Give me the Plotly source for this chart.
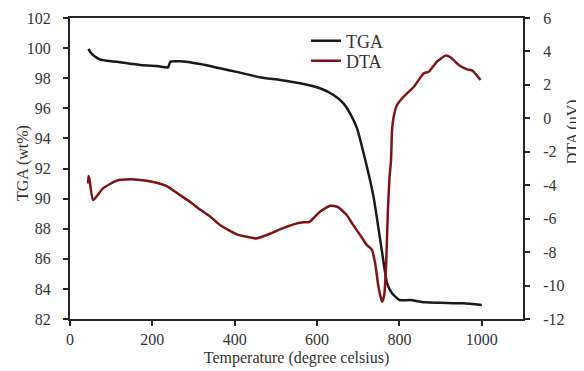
import plotly.graph_objects as go

# TGA data (temperature in degree celsius, weight %)
tga_temp = [45, 50, 56, 72, 100, 121, 150, 170, 210, 233, 238, 244, 267, 316, 364, 413, 461,
            510, 559, 607, 640, 664, 680, 697, 717, 737, 757, 770, 782, 800, 826, 851, 863,
            900, 956, 1000]
tga_wt = [99.95, 99.7, 99.54, 99.25, 99.12, 99.06, 98.95, 98.88, 98.81, 98.72, 98.72, 99.1,
          99.12, 98.94, 98.66, 98.37, 98.06, 97.88, 97.66, 97.33, 96.88, 96.33, 95.67, 94.67,
          92.56, 90.13, 86.58, 84.37, 83.71, 83.26, 83.26, 83.15, 83.11, 83.08, 83.04, 82.93]

# DTA data (temperature in degree celsius, uV)
dta_temp = [44, 45, 47, 56, 80, 113, 145, 170, 210, 235, 267, 292, 315, 341, 364, 405, 429,
            453, 486, 510, 527, 543, 567, 581, 607, 632, 650, 672, 685, 705, 721, 733, 741,
            749, 757.6, 763, 768, 772, 776, 779.6, 782, 786, 794, 810, 835, 859, 871, 891,
            912, 924, 944, 964, 977, 997]
dta_uv = [-3.9, -3.45, -3.6, -4.89, -4.19, -3.73, -3.65, -3.69, -3.85, -4.05, -4.59, -5.0,
          -5.44, -5.88, -6.38, -6.94, -7.08, -7.18, -6.9, -6.64, -6.48, -6.34, -6.22, -6.2,
          -5.58, -5.23, -5.3, -5.78, -6.28, -7.0, -7.58, -7.85, -8.67, -10.07, -10.97, -10.57,
          -8.47, -5.48, -3.49, -2.49, -0.70, 0.10, 0.80, 1.29, 1.89, 2.69, 2.79, 3.39, 3.75,
          3.65, 3.19, 2.93, 2.85, 2.29]

# Tick labels
x_ticks = [0, 200, 400, 600, 800, 1000]
tga_ticks = [82, 84, 86, 88, 90, 92, 94, 96, 98, 100, 102]
dta_ticks = [-12, -10, -8, -6, -4, -2, 0, 2, 4, 6]
dta_tick_text = ["-12", "-10", "-8", "-6", "-4", "-2", "0", "2", "4", "6"]

FONT = "Liberation Serif"
AX = "#262626"
TXT = "#333333"

fig = go.Figure()
fig.add_trace(go.Scatter(x=tga_temp, y=tga_wt, name="TGA", mode="lines", legend="legend",
                         line=dict(color="#1a1a1a", width=2.5, shape="spline", smoothing=0.5)))
fig.add_trace(go.Scatter(x=dta_temp, y=dta_uv, name="DTA", mode="lines", yaxis="y2",
                         legend="legend2",
                         line=dict(color="#7f1518", width=2.5, shape="spline", smoothing=0.5)))

leg_common = dict(xanchor="left", yanchor="middle", bgcolor="rgba(0,0,0,0)",
                  font=dict(family=FONT, size=18, color=TXT))

fig.update_layout(
    width=576, height=363,
    margin=dict(l=62, r=61, t=10, b=52),
    paper_bgcolor="white", plot_bgcolor="white",
    font=dict(family=FONT, size=16, color=TXT),
    showlegend=True,
    legend=dict(x=0.521, y=0.9236, **leg_common),
    legend2=dict(x=0.521, y=0.857, **leg_common),
    xaxis=dict(range=[0, 1100], tickvals=x_ticks, automargin=False,
               showgrid=False, zeroline=False, showline=True, linecolor=AX, linewidth=2,
               mirror=True, ticks="outside", ticklen=5, tickcolor=AX, tickwidth=1.5,
               ticklabelstandoff=0,
               title=dict(text="Temperature (degree celsius)", standoff=5,
                          font=dict(family=FONT, size=16, color=TXT))),
    yaxis=dict(range=[82, 102], tickvals=tga_ticks, automargin=False,
               showgrid=False, zeroline=False, showline=True, linecolor=AX, linewidth=2,
               ticks="outside", ticklen=5, tickcolor=AX, tickwidth=1.5,
               ticklabelstandoff=9),
    yaxis2=dict(range=[-12, 6], tickvals=dta_ticks, ticktext=dta_tick_text,
                overlaying="y", side="right", automargin=False,
                showgrid=False, zeroline=False, showline=True, linecolor=AX, linewidth=2,
                ticks="outside", ticklen=5, tickcolor=AX, tickwidth=1.5,
                ticklabelstandoff=10),
    annotations=[
        dict(text="TGA (wt%)", xref="paper", yref="paper", x=-0.1038, y=0.518,
             textangle=-90, showarrow=False, xanchor="center", yanchor="middle",
             font=dict(family=FONT, size=16, color=TXT)),
        dict(text="DTA (uV)", xref="paper", yref="paper", x=1.111, y=0.621,
             textangle=-90, showarrow=False, xanchor="center", yanchor="middle",
             font=dict(family=FONT, size=16, color=TXT)),
    ],
)

fig.write_html("out.html")
